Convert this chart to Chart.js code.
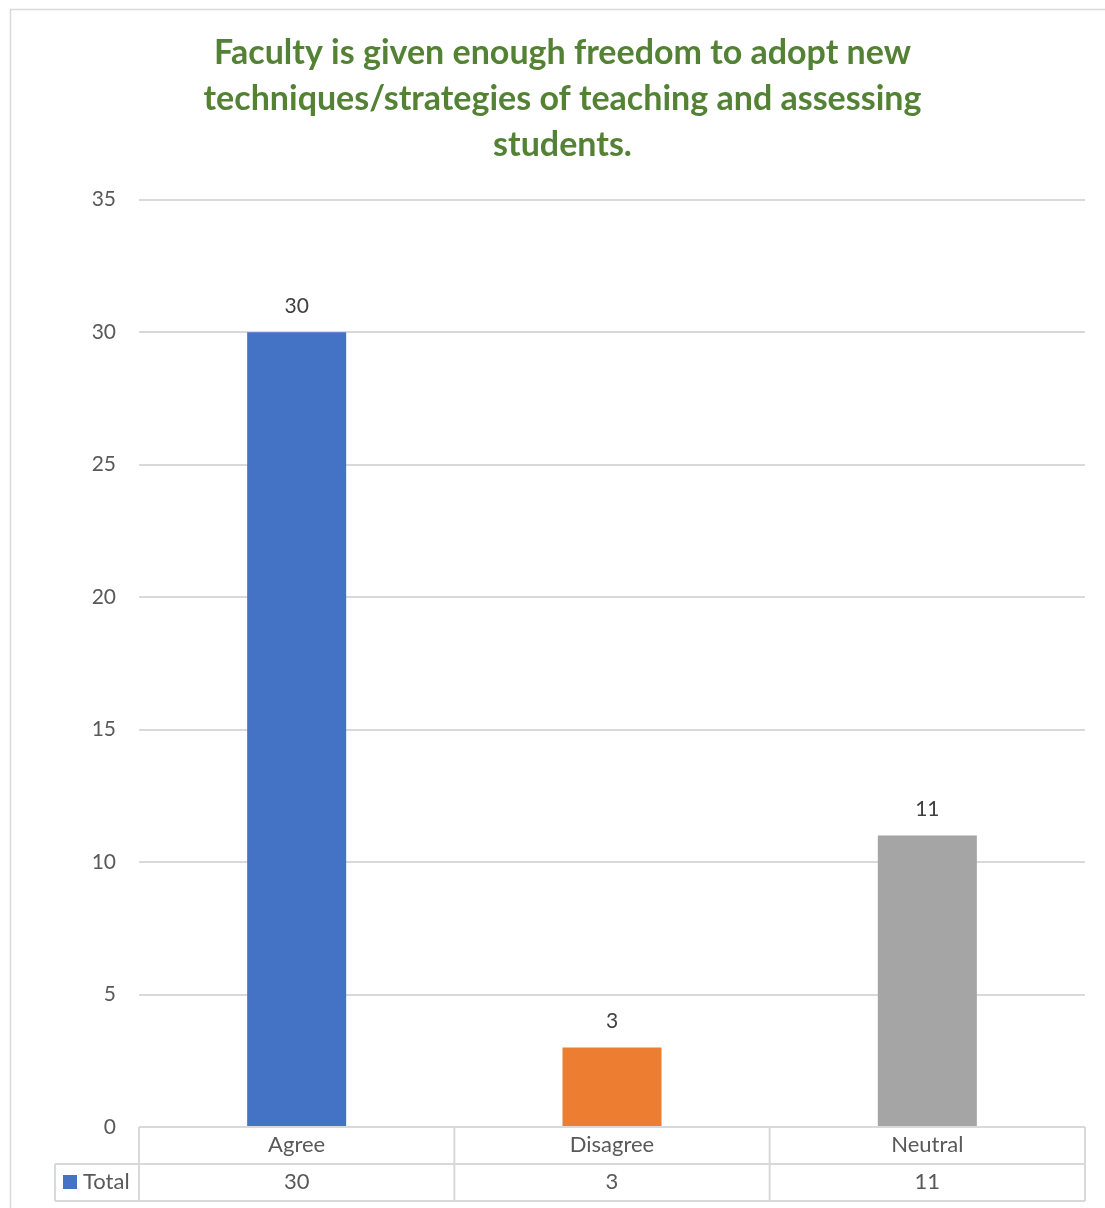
<!DOCTYPE html>
<html>
<head>
<meta charset="utf-8">
<script src="https://cdn.jsdelivr.net/npm/chart.js@4.4.1/dist/chart.umd.min.js"></script>
<style>
  html, body { margin: 0; padding: 0; background: #fff; }
  #wrap { width: 1105px; height: 1208px; }
</style>
</head>
<body>
<div id="wrap"><canvas id="myChart" width="1105" height="1208"></canvas></div>
<script>
const categories = ['Agree', 'Disagree', 'Neutral'];
const totals = [30, 3, 11];
const barColors = ['#4472C4', '#ED7D31', '#A5A5A5'];
const seriesName = 'Total';
const titleLines = ['Faculty is given enough freedom to adopt new', 'techniques/strategies of teaching and assessing', 'students.'];

const FONT = 'Lato, "Open Sans", sans-serif';
const GRID = '#d9d9d9';
const TXT = '#595959';

// frame round the whole chart
const framePlugin = {
    id: 'frame',
    beforeDraw(chart) {
        const ctx = chart.ctx;
        ctx.save();
        ctx.strokeStyle = GRID;
        ctx.lineWidth = 1.5;
        ctx.strokeRect(10.5, 9.5, 1110, 1220);
        ctx.restore();
    }
};

// value labels over bars
const labelPlugin = {
    id: 'barLabels',
    afterDatasetsDraw(chart) {
        const ctx = chart.ctx;
        const meta = chart.getDatasetMeta(0);
        ctx.save();
        ctx.font = '21px ' + FONT;
        ctx.fillStyle = '#404040';
        ctx.textAlign = 'center';
        ctx.textBaseline = 'middle';
        meta.data.forEach((bar, i) => {
            ctx.fillText(String(totals[i]), bar.x, bar.y - 26);
        });
        ctx.restore();
    }
};

// data table under the plot
const tablePlugin = {
    id: 'dataTable',
    afterDraw(chart) {
        const ctx = chart.ctx;
        const x = chart.scales.x;
        const area = chart.chartArea;
        const top = area.bottom;
        const rowH = 37;
        const legendLeft = 55;
        const edges = [];
        for (let i = 0; i <= categories.length; i++) {
            edges.push(area.left + (area.right - area.left) * i / categories.length);
        }
        ctx.save();
        ctx.strokeStyle = GRID;
        ctx.lineWidth = 2;
        ctx.beginPath();
        ctx.moveTo(area.left, top); ctx.lineTo(area.right, top);
        ctx.moveTo(legendLeft, top + rowH); ctx.lineTo(area.right, top + rowH);
        ctx.moveTo(legendLeft, top + 2 * rowH); ctx.lineTo(area.right, top + 2 * rowH);
        edges.forEach(e => { ctx.moveTo(e, top); ctx.lineTo(e, top + 2 * rowH); });
        ctx.moveTo(legendLeft, top + rowH); ctx.lineTo(legendLeft, top + 2 * rowH);
        ctx.stroke();

        ctx.font = '22px ' + FONT;
        ctx.fillStyle = TXT;
        ctx.textAlign = 'center';
        ctx.textBaseline = 'middle';
        categories.forEach((c, i) => {
            const cx = x.getPixelForValue(i);
            ctx.fillText(c, cx, top + rowH / 2 - 1);
            ctx.fillText(String(totals[i]), cx, top + rowH * 1.5 - 1);
        });
        ctx.fillStyle = barColors[0];
        ctx.fillRect(63, top + rowH + 11, 14, 14);
        ctx.fillStyle = TXT;
        ctx.textAlign = 'left';
        ctx.fillText(seriesName, 83, top + rowH * 1.5 - 1);
        ctx.restore();
    }
};

const data = {
    labels: categories,
    datasets: [{
        label: seriesName,
        data: totals,
        backgroundColor: barColors,
        categoryPercentage: 1,
        barPercentage: 0.314
    }]
};

const config = {
    type: 'bar',
    data: data,
    options: {
        responsive: false,
        animation: false,
        layout: { padding: { left: 40, right: 20, top: 0, bottom: 73 } },
        plugins: {
            legend: { display: false },
            tooltip: { enabled: false },
            title: {
                display: true,
                text: titleLines,
                color: '#548235',
                font: { family: FONT, size: 34, weight: 'bold', lineHeight: 1.35 },
                padding: { top: 30, bottom: 32 }
            }
        },
        scales: {
            x: {
                grid: { display: false },
                border: { display: false },
                ticks: { display: false }
            },
            y: {
                min: 0,
                max: 35,
                ticks: { stepSize: 5, color: TXT, font: { family: FONT, size: 21 }, padding: 23 },
                grid: { color: GRID, lineWidth: 2, drawTicks: false },
                border: { display: false },
                afterFit(scale) { scale.width = 99; }
            }
        }
    },
    plugins: [framePlugin, labelPlugin, tablePlugin]
};

var myChart = new Chart(document.getElementById('myChart'), config);
</script>
</body>
</html>
